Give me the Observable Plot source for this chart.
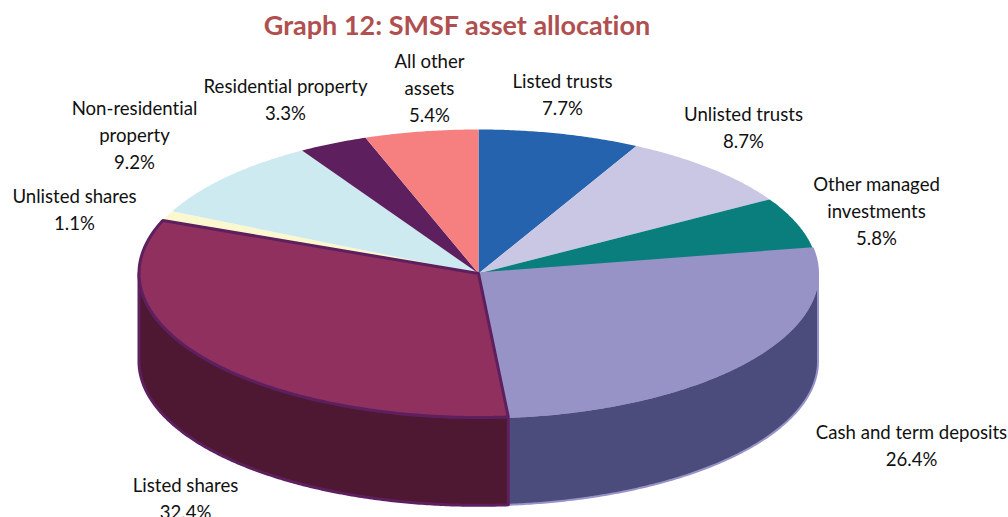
<!DOCTYPE html>
<html>
<head>
<meta charset="utf-8">
<script src="https://cdn.jsdelivr.net/npm/d3@7"></script>
<script src="https://cdn.jsdelivr.net/npm/@observablehq/plot@0.6"></script>
<style>
html,body{margin:0;padding:0;background:#fff;overflow:hidden;width:1008px;height:517px}
#title{height:44px;text-align:center;font:bold 27px/50px Lato,"Open Sans",sans-serif;color:#B04F4F;width:914px;white-space:nowrap;font-variant-ligatures:none}
svg{display:block}
svg text{font-variant-ligatures:none}
</style>
</head>
<body>
<div id="title">Graph 12: SMSF asset allocation</div>
<div id="chart"></div>
<script>
const categories = ["Listed trusts","Unlisted trusts","Other managed investments","Cash and term deposits","Listed shares","Unlisted shares","Non-residential property","Residential property","All other assets"];
const shares = [7.7,8.7,5.8,26.4,32.4,1.1,9.2,3.3,5.4];
const labelLines = [["Listed trusts"],["Unlisted trusts"],["Other managed","investments"],["Cash and term deposits"],["Listed shares"],["Unlisted shares"],["Non-residential","property"],["Residential property"],["All other","assets"]];
const topColors = ["#2563AE","#CAC7E4","#0A7E7C","#9793C7","#90305E","#FBF7CF","#CDEAF1","#5E1F5E","#F67F7F"];
const wallColors = [null,null,null,"#4B4B7C","#4E1832",null,null,null,null];
const edgeColors = ["none","none","none","#9793C7","#5E1F5E","none","none","none","none"];
const edgeWidths = [0,0,0,2,3,0,0,0,0];
const labelX = [562,743,876,911,185,74,134,285,429];
const labelY = [92,125,208.5,443,496,207,132.5,97,85.5];

// layout of the pie in the page
const W = 1008, H = 473, titleH = 44;
const cx = 478, cy = 273, rx = 339.5, ry = 144, depth = 0.61;

const total = d3.sum(shares);
const ends = d3.cumsum(shares);
const rad = s => s / total * 2 * Math.PI;
const pt = (a, drop = 0) => ({x: Math.sin(a), y: -Math.cos(a) + drop});
const arc = (a0, a1, drop = 0) => {
  const n = Math.max(2, Math.ceil((a1 - a0) / 0.008));
  return d3.range(n + 1).map(i => pt(a0 + (a1 - a0) * i / n, drop));
};
const slices = categories.map((c, i) => ({c, i, a0: rad(ends[i] - shares[i]), a1: rad(ends[i])}));

const topRows = slices.flatMap(s => [{x: 0, y: 0}, ...arc(s.a0, s.a1), {x: 0, y: 0}]
  .map(p => ({...p, key: s.c, fill: topColors[s.i], edge: edgeColors[s.i]})));

const wallRows = slices.filter(s => wallColors[s.i]).flatMap(s => {
  const a0 = Math.max(s.a0, Math.PI / 2), a1 = Math.min(s.a1, 3 * Math.PI / 2);
  return [...arc(a0, a1), ...arc(a0, a1, depth).reverse(), pt(a0)]
    .map(p => ({...p, key: s.c, fill: wallColors[s.i], edge: edgeColors[s.i]}));
});

const labels = categories.map((c, i) => ({
  text: [...labelLines[i], shares[i].toFixed(1) + "%"].join("\n"),
  x: (labelX[i] - cx) / rx,
  y: (labelY[i] - cy) / ry
}));

const sliceLine = (rows, i) => Plot.line(rows.filter(d => d.key === categories[i]), {
  x: "x", y: "y", z: "key", fill: "fill", stroke: "edge",
  strokeWidth: edgeWidths[i], strokeLinejoin: "round", curve: "linear"
});

const plot = Plot.plot({
  width: W, height: H,
  margin: 0, marginTop: 0, marginBottom: 0, marginLeft: 0, marginRight: 0,
  style: {background: "#fff", overflow: "visible"},
  x: {domain: [-1, 1], range: [cx - rx, cx + rx], axis: null},
  y: {domain: [-1, 1], range: [cy - ry - titleH, cy + ry - titleH], axis: null},
  color: {type: "identity"},
  marks: [
    sliceLine(wallRows, 3),
    sliceLine(wallRows, 4),
    ...[0, 1, 2, 5, 6, 7, 8].map(i => sliceLine(topRows, i)),
    sliceLine(topRows, 3),
    sliceLine(topRows, 4),
    Plot.text(labels, {x: "x", y: "y", text: "text", textAnchor: "middle", lineAnchor: "middle", lineHeight: 1.45, fontSize: 18.6, fontFamily: "Lato, 'Open Sans', sans-serif", fill: "#111"})
  ]
});
document.getElementById("chart").appendChild(plot);
</script>
</body>
</html>
